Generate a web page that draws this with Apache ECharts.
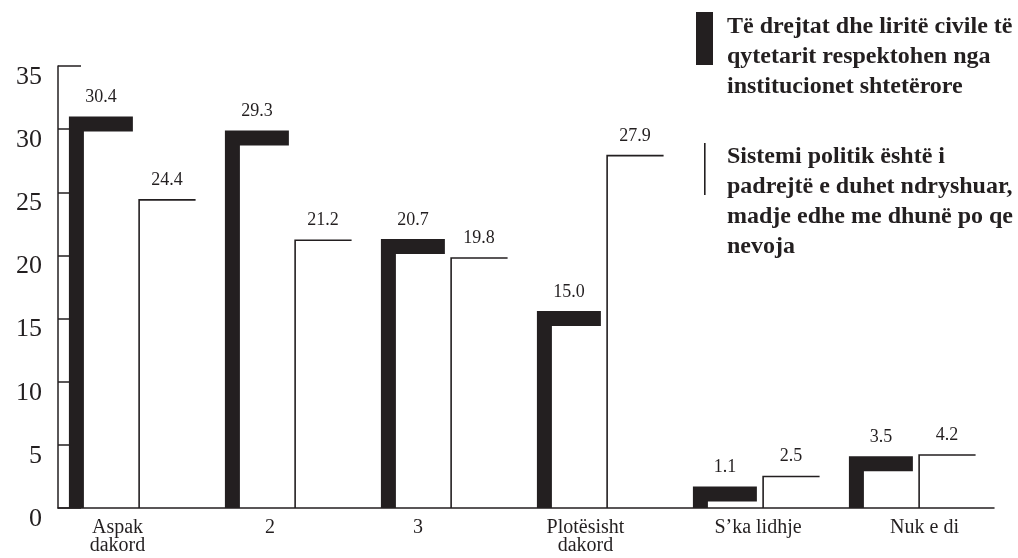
<!DOCTYPE html>
<html>
<head>
<meta charset="utf-8">
<script src="https://cdn.jsdelivr.net/npm/echarts@6/dist/echarts.min.js"></script>
<style>
html,body{margin:0;padding:0;background:#fff;}
#chart{width:1018px;height:558px;}
</style>
</head>
<body>
<div id="chart"></div>
<script>
var categories = ['Aspak\ndakord', '2', '3', 'Plotësisht\ndakord', 'S’ka lidhje', 'Nuk e di'];
var seriesNames = [
  'Të drejtat dhe liritë civile të\nqytetarit respektohen nga\ninstitucionet shtetërore',
  'Sistemi politik është i\npadrejtë e duhet ndryshuar,\nmadje edhe me dhunë po qe\nnevoja'
];
var rightsValues = [30.4, 29.3, 20.7, 15.0, 1.1, 3.5];
var systemValues = [24.4, 21.2, 19.8, 27.9, 2.5, 4.2];
var yTicks = [0, 5, 10, 15, 20, 25, 30, 35];

var INK = '#231f20';
var FONT = '"Liberation Serif", "DejaVu Serif", serif';
var lineWidths = [15, 1.6];
// horizontal nudges (px) of the category labels, as placed in the original layout
var labelShift = [-18.5, -22, -30, -18.5, -2, 8.5];

function makeRender(seriesIndex) {
  return function (params, api) {
    var cat = api.value(0), val = api.value(1);
    var base = api.coord([cat, 0]);
    var top = api.coord([cat, val]);
    var bandW = api.size([1, 0])[0];
    var barW = bandW * 0.362;
    var gap = bandW * 0.04;
    var groupW = barW * 2 + gap;
    var x0 = base[0] - groupW / 2 + seriesIndex * (barW + gap);
    var lw = lineWidths[seriesIndex];
    return {
      type: 'group',
      children: [
        {
          type: 'polyline',
          shape: { points: [[x0, base[1]], [x0, top[1]], [x0 + barW, top[1]]] },
          style: { stroke: INK, lineWidth: lw, fill: null, lineJoin: 'miter', lineCap: 'butt' }
        },
        {
          type: 'text',
          style: {
            text: val.toFixed(1),
            x: (x0 - lw / 2 + x0 + barW) / 2,
            y: top[1] - lw / 2 - 10,
            textAlign: 'center',
            textVerticalAlign: 'bottom',
            fill: INK,
            font: '18px ' + FONT
          }
        }
      ]
    };
  };
}

var rich = {};
labelShift.forEach(function (s, i) {
  rich['c' + i] = {
    fontFamily: FONT, fontSize: 20, lineHeight: 18, color: INK,
    padding: s < 0 ? [0, -2 * s, 0, 0] : [0, 0, 0, 2 * s]
  };
});

var chart = echarts.init(document.getElementById('chart'));
chart.setOption({
  animation: false,
  backgroundColor: '#fff',
  grid: { left: 58, right: 24, top: 66, bottom: 50 },
  xAxis: {
    type: 'category',
    data: categories,
    boundaryGap: true,
    axisLine: { lineStyle: { color: INK, width: 1.5 } },
    axisTick: { inside: true, length: 11, interval: 0, lineStyle: { color: INK, width: 1.5 } },
    axisLabel: {
      interval: 0,
      hideOverlap: false,
      color: INK, fontFamily: FONT, fontSize: 20, lineHeight: 18, margin: 11,
      formatter: function (value, index) {
        return value.split('\n').map(function (line) {
          return '{c' + index + '|' + line + '}';
        }).join('\n');
      },
      rich: rich
    }
  },
  yAxis: {
    type: 'value',
    min: yTicks[0],
    max: yTicks[yTicks.length - 1],
    interval: yTicks[1] - yTicks[0],
    axisLine: { show: true, lineStyle: { color: INK, width: 1.5 } },
    axisTick: { show: true, inside: true, length: 23, lineStyle: { color: INK, width: 1.5 } },
    splitLine: { show: false },
    axisLabel: { color: INK, fontFamily: FONT, fontSize: 26, margin: 16, verticalAlign: 'top', lineHeight: 22 }
  },
  series: [
    {
      type: 'custom',
      name: seriesNames[0],
      renderItem: makeRender(0),
      encode: { x: 0, y: 1 },
      data: rightsValues.map(function (v, i) { return [i, v]; })
    },
    {
      type: 'custom',
      name: seriesNames[1],
      renderItem: makeRender(1),
      encode: { x: 0, y: 1 },
      data: systemValues.map(function (v, i) { return [i, v]; })
    }
  ],
  graphic: [
    { type: 'rect', left: 696, top: 12, shape: { width: 17, height: 53 }, style: { fill: INK } },
    { type: 'text', left: 727, top: 12, style: { text: seriesNames[0], fill: INK, font: 'bold 24px ' + FONT, lineHeight: 30 } },
    { type: 'rect', left: 704, top: 143, shape: { width: 1.6, height: 52 }, style: { fill: INK } },
    { type: 'text', left: 727, top: 142, style: { text: seriesNames[1], fill: INK, font: 'bold 24px ' + FONT, lineHeight: 30 } }
  ]
});
</script>
</body>
</html>
